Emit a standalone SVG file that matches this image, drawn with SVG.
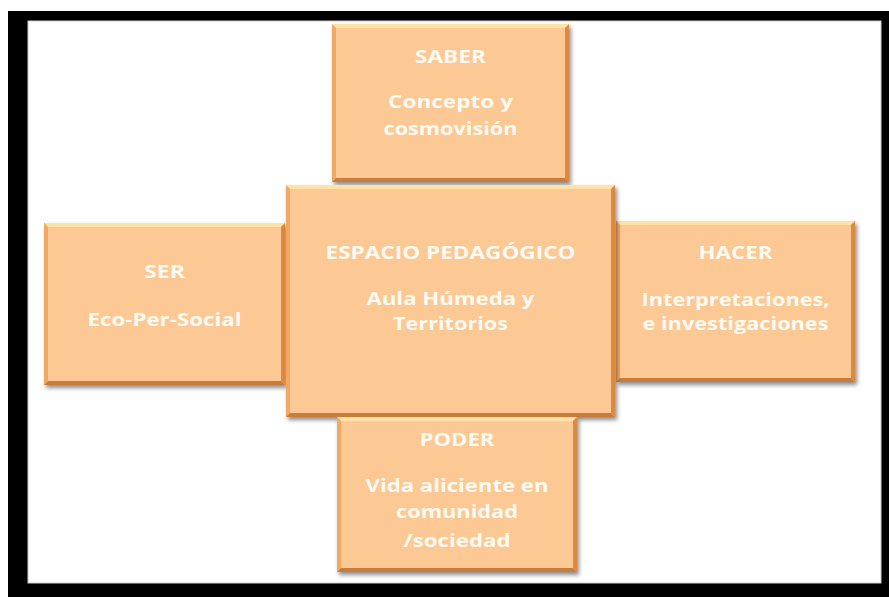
<svg xmlns="http://www.w3.org/2000/svg" width="889" height="597" viewBox="0 0 889 597">
<style>
.face{fill:#FCC894}
.bt{fill:#FFE3A4}
.bl{fill:#F2A862}
.br{fill:#DC8A42}
.bb{fill:#CB7C3A}
.t{font-family:"Open Sans","Liberation Sans",sans-serif;font-weight:bold;font-size:18px;fill:#FFFAF2;text-anchor:middle}
</style>
<defs>
<filter id="sh" x="-10%" y="-10%" width="125%" height="125%">
<feDropShadow dx="2" dy="3" stdDeviation="2" flood-color="#000" flood-opacity="0.45"/>
</filter>
</defs>
<rect x="0" y="0" width="889" height="597" fill="#FFFFFF"/>
<rect x="8" y="11" width="881" height="586" fill="#000000"/>
<rect x="28" y="21" width="853" height="562" fill="#FFFFFF" stroke="#CCCCCC" stroke-width="1"/>

<g id="saber" transform="translate(332,24)">
<g filter="url(#sh)"><rect class="face" width="237" height="158"/></g>
<polygon class="bt" points="0,0 237,0 233,4 4,4"/>
<polygon class="bl" points="0,0 4,4 4,154 0,158"/>
<polygon class="br" points="237,0 237,158 233,154 233,4"/>
<polygon class="bb" points="0,158 237,158 233,154 4,154"/>
<text class="t" x="118.5" y="39" textLength="71" lengthAdjust="spacingAndGlyphs">SABER</text>
<text class="t" x="118.5" y="84" textLength="125" lengthAdjust="spacingAndGlyphs">Concepto y</text>
<text class="t" x="118.5" y="111" textLength="134" lengthAdjust="spacingAndGlyphs">cosmovisión</text>
</g>

<g id="ser" transform="translate(44,223)">
<g filter="url(#sh)"><rect class="face" width="241" height="162"/></g>
<polygon class="bt" points="0,0 241,0 237,4 4,4"/>
<polygon class="bl" points="0,0 4,4 4,158 0,162"/>
<polygon class="br" points="241,0 241,162 237,158 237,4"/>
<polygon class="bb" points="0,162 241,162 237,158 4,158"/>
<text class="t" x="120.5" y="55" textLength="41" lengthAdjust="spacingAndGlyphs">SER</text>
<text class="t" x="120.5" y="103" textLength="154" lengthAdjust="spacingAndGlyphs">Eco-Per-Social</text>
</g>

<g id="hacer" transform="translate(616,221)">
<g filter="url(#sh)"><rect class="face" width="239" height="161"/></g>
<polygon class="bt" points="0,0 239,0 235,4 4,4"/>
<polygon class="bl" points="0,0 4,4 4,157 0,161"/>
<polygon class="br" points="239,0 239,161 235,157 235,4"/>
<polygon class="bb" points="0,161 239,161 235,157 4,157"/>
<text class="t" x="119.5" y="38" textLength="74" lengthAdjust="spacingAndGlyphs">HACER</text>
<text class="t" x="119.5" y="85" textLength="188" lengthAdjust="spacingAndGlyphs">Interpretaciones,</text>
<text class="t" x="119.5" y="109" textLength="186" lengthAdjust="spacingAndGlyphs">e investigaciones</text>
</g>

<g id="espacio" transform="translate(286,185)">
<g filter="url(#sh)"><rect class="face" width="329" height="232"/></g>
<polygon class="bt" points="0,0 329,0 325,4 4,4"/>
<polygon class="bl" points="0,0 4,4 4,228 0,232"/>
<polygon class="br" points="329,0 329,232 325,228 325,4"/>
<polygon class="bb" points="0,232 329,232 325,228 4,228"/>
<text class="t" x="164.5" y="74" textLength="250" lengthAdjust="spacingAndGlyphs">ESPACIO PEDAGÓGICO</text>
<text class="t" x="164.5" y="120" textLength="168" lengthAdjust="spacingAndGlyphs">Aula Húmeda y</text>
<text class="t" x="164.5" y="145" textLength="115" lengthAdjust="spacingAndGlyphs">Territorios</text>
</g>

<g id="poder" transform="translate(337,417)">
<g filter="url(#sh)"><rect class="face" width="240" height="155"/></g>
<polygon class="bt" points="0,0 240,0 236,4 4,4"/>
<polygon class="bl" points="0,0 4,4 4,151 0,155"/>
<polygon class="br" points="240,0 240,155 236,151 236,4"/>
<polygon class="bb" points="0,155 240,155 236,151 4,151"/>
<text class="t" x="120" y="29" textLength="75" lengthAdjust="spacingAndGlyphs">PODER</text>
<text class="t" x="120" y="75" textLength="183" lengthAdjust="spacingAndGlyphs">Vida aliciente en</text>
<text class="t" x="120" y="101" textLength="122" lengthAdjust="spacingAndGlyphs">comunidad</text>
<text class="t" x="120" y="130" textLength="107" lengthAdjust="spacingAndGlyphs">/sociedad</text>
</g>

<g id="connectors"></g>
</svg>
